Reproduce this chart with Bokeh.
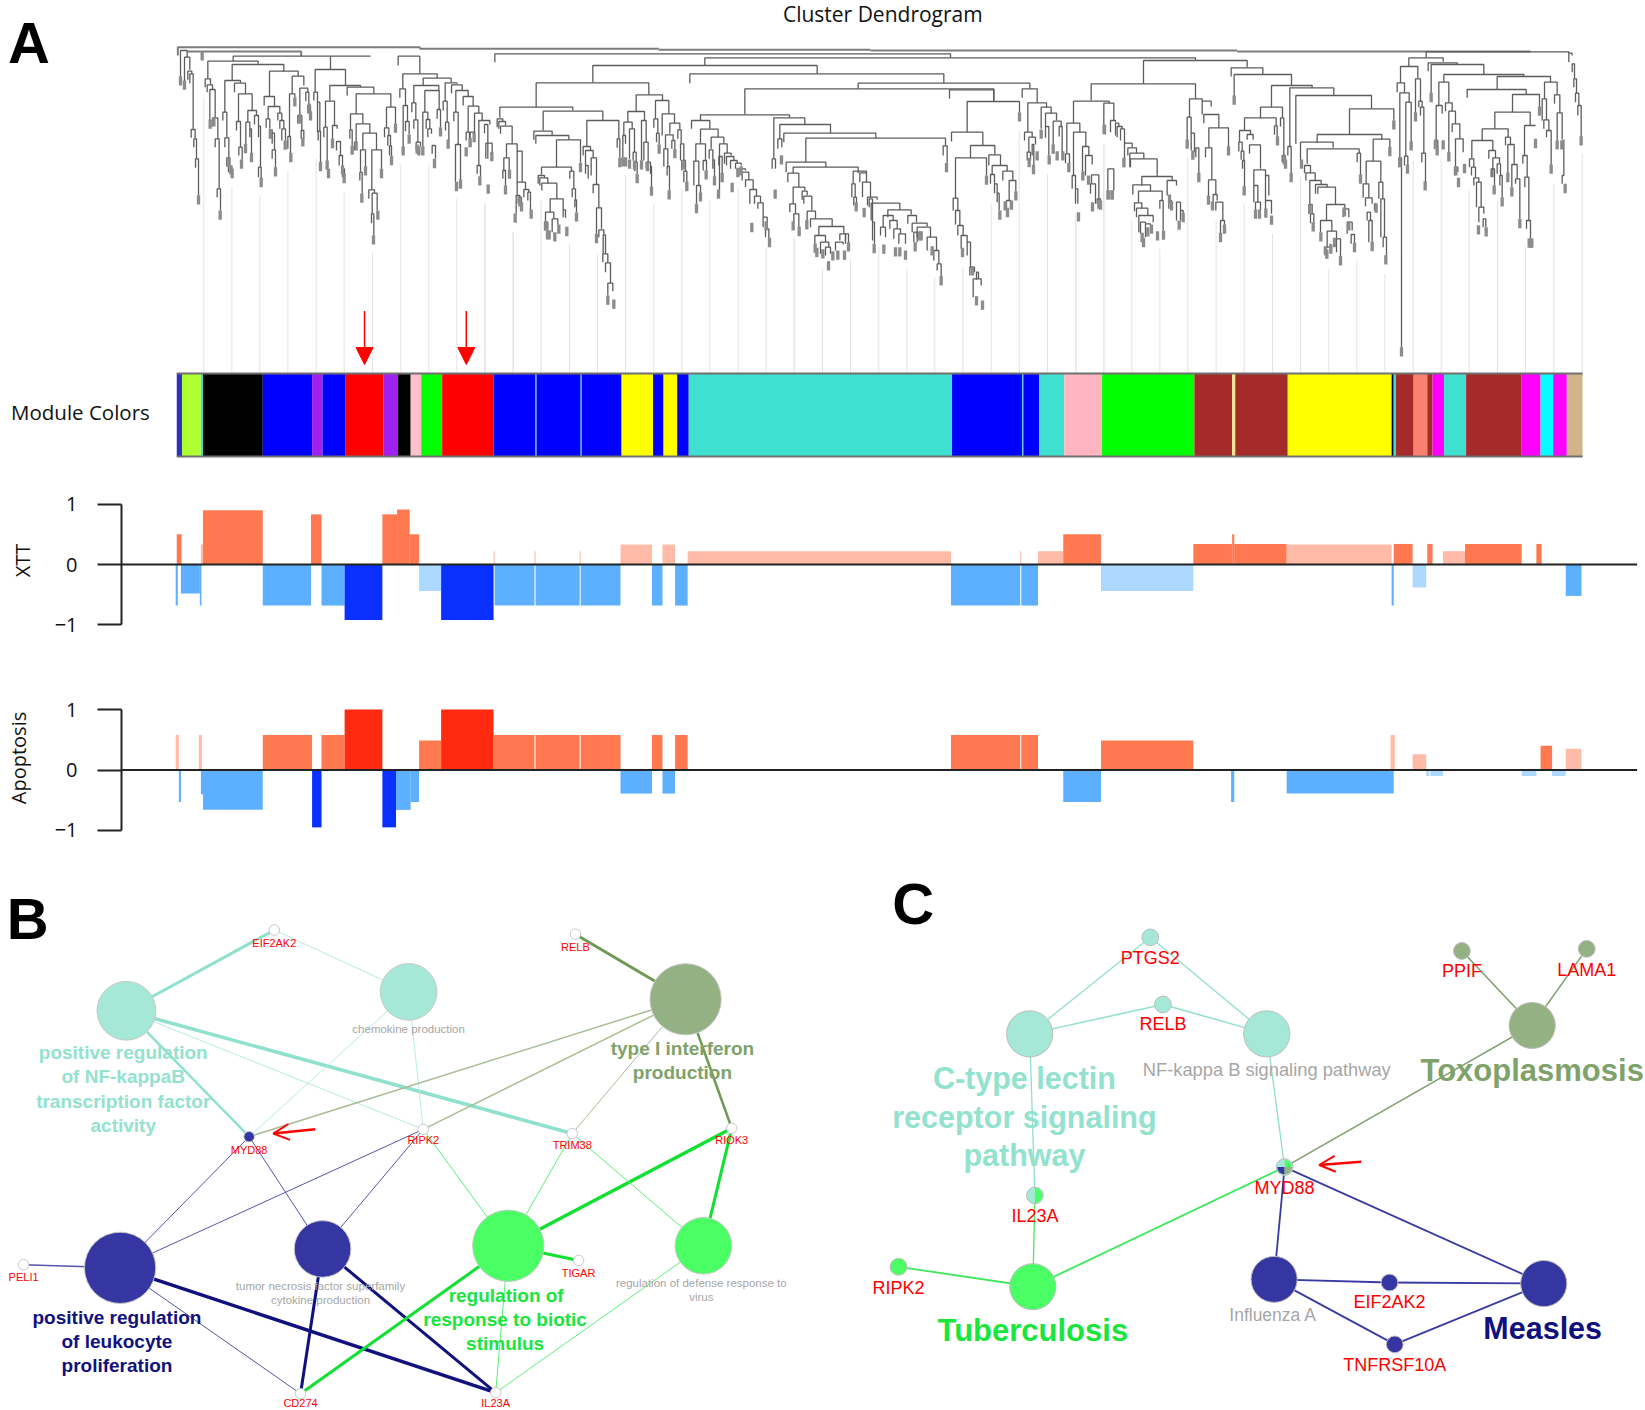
from bokeh.embed import file_html
from bokeh.resources import INLINE
from bokeh.layouts import column
from bokeh.plotting import figure
from bokeh.models import Range1d, FixedTicker, Arrow, NormalHead, OpenHead
from bokeh.core.properties import value

# ---------------------------------------------------------------- data
TITLE = "Cluster Dendrogram"

DENDRO_A = [
(30,50,30,110,50),(42,58,50,122,88),(52,64,92,118,100),(58,68,100,128,265),(62,74,267,292,295),(70,78,295,320,355),(75,84,355,382,465),
(104,120,115,140,132),(110,126,133,155,147),(118,134,147,240,232),(126,142,232,258,295),(134,146,295,320,445),(140,150,445,470,510),
(112,263,62,115,70),(185,340,72,120,92),(163,210,120,215,127),(157,169,215,240,292),(163,175,292,320,352),(169,178,352,378,378),(174,184,378,395,395),
(192,225,128,155,160),(204,245,160,243,210),(198,210,243,270,320),(205,215,320,345,358),(232,258,210,245,225),(226,238,245,312,265),(238,243,265,290,340),
(252,264,225,252,257),(264,270,257,290,380),(264,272,380,410,415),
(297,383,92,168,107),(281,312,168,195,198),(293,328,198,235,218),(287,298,235,262,265),(297,305,268,295,278),(305,312,278,310,328),(305,315,328,355,385),
(322,334,218,240,240),(328,340,240,265,265),(334,345,265,300,300),(352,360,288,325,340),
(365,400,107,160,135),(357,373,160,288,170),(388,412,143,225,155),(382,394,225,250,270),(392,400,270,295,295),(406,415,155,182,195),(412,420,195,218,215),
(188,600,47,62,47),(480,480,47,87,87),(683,748,47,75,100),
(434,525,87,155,135),(430,441,155,180,185),(441,448,185,275,272),(443,450,272,300,365),(478,570,135,180,140),(465,492,182,260,255),(460,470,260,290,363),
(486,500,255,300,265),(498,510,303,330,345),(506,516,345,375,385),(516,522,385,410,405),
(530,610,140,165,160),(557,661,160,220,200),(540,577,220,268,248),(538,545,268,295,315),(552,557,305,330,318),(557,598,250,305,278),(577,618,278,328,328),
(570,585,328,393,380),(568,575,395,420,460),(604,633,328,448,385),(595,612,448,475,458),(605,620,458,520,510),(603,610,520,548,585),
(648,675,200,262,250),(642,655,262,290,285),(652,660,285,316,316),(657,663,316,345,348),
(697,800,100,145,113),(688,705,145,172,195),(698,711,195,318,243),(705,716,243,272,282),
(758,842,113,135,125),(730,805,135,187,150),(724,736,187,215,238),(730,742,238,265,305),(737,750,305,330,318),
(763,806,150,215,207),(757,772,215,318,237),(767,778,237,265,265),(772,783,265,290,280),(785,795,315,340,355),(800,810,207,235,260),
(824,860,127,182,130),(818,830,182,210,245),(825,835,245,270,300),
(843,875,133,158,150),(856,893,150,215,168),(850,863,215,242,312),(855,870,312,425,420),(878,908,168,195,197),(893,925,197,275,218),(887,897,275,300,320),
(899,911,275,295,280),(912,935,218,278,240),(925,958,240,375,252),(920,930,375,400,408),(946,965,308,355,335),(942,952,252,278,355),
]
TIPS_A = [(30,135),(42,148),(84,492),(95,60),(119,265),(130,258),(149,538),(175,380),(181,402),(185,413),(213,385),(225,338),(243,365),(272,440),(315,408),(300,295),
(344,328),(361,365),(373,198),(397,318),(416,218),(420,240),(388,250),(450,392),(470,388),(474,413),(486,323),(521,428),(516,402),(545,343),(557,330),(574,487),(585,405),
(622,538),(609,612),(633,413),(663,374),(675,277),(698,345),(716,310),(745,345),(757,345),(792,383),(810,288),(833,325),(858,452),(870,445),(887,348),(899,320),(911,305),
(928,435),(953,460),(964,362),(740,340)]

DENDRO_B = [
(73,1440,40,65,52),(703,2175,52,75,60),(367,1040,75,127,100),(658,1420,100,128,128),(1163,1678,128,145,145),(823,1570,145,222,183),(197,535,127,200,163),
(88,307,200,232,210),(80,97,235,260,243),(85,105,243,265,255),(90,125,257,280,310),(108,140,310,350,332),(100,116,352,390,388),(97,105,390,415,435),
(140,155,332,425,425),(140,165,425,465,445),(137,148,465,520,470),(143,153,470,490,490),(160,175,447,470,455),(172,180,455,480,510),
(218,397,212,270,240),(190,245,272,298,285),(196,295,285,310,298),(258,330,298,380,366),(213,303,380,402,392),(203,222,405,430,412),(208,232,412,435,428),
(214,259,428,450,475),(239,278,475,515,508),(225,250,515,545,535),(222,232,545,570,568),(245,262,535,575,553),(278,285,508,530,532),
(298,310,392,415,445),(305,315,445,470,478),(313,318,478,500,515),
(349,445,240,318,295),(338,360,318,345,330),(345,368,330,375,352),(345,353,375,400,415),(362,378,352,405,432),(368,385,432,458,502),(378,393,502,580,565),
(385,400,568,590,583),(398,405,583,640,640),(397,412,640,665,667),(405,420,667,695,728),(412,427,728,765,752),(440,448,295,322,352),
(497,576,163,213,180),(472,522,213,245,240),(460,485,245,285,265),(457,465,285,350,310),(477,492,265,355,335),(488,497,335,360,365),(493,500,365,392,400),
(513,527,240,360,305),(520,533,305,360,365),(527,540,365,385,378),(540,543,378,400,440),
(555,595,180,235,220),(550,562,235,262,278),(558,566,278,305,313),(575,612,220,285,248),(598,628,248,280,268),(585,608,283,325,298),(580,592,325,378,378),
(590,597,378,405,450),(604,613,300,325,325),(622,632,268,295,308),(630,640,310,360,360),(634,645,360,390,392),(640,649,392,425,425),
(663,718,240,265,265),(690,743,266,310,290),(676,705,310,362,362),(670,685,362,435,435),(678,690,435,490,457),(698,708,360,390,390),
(722,760,290,325,310),(716,727,328,355,358),(727,732,358,385,410),(747,770,310,450,338),(745,755,348,375,400),
(762,782,338,370,345),(768,790,348,375,360),(780,800,360,385,368),(795,812,368,385,375),(805,825,385,405,390),(815,835,395,420,418),(825,848,418,440,447),
(838,858,447,490,467),(852,870,467,490,487),(862,878,487,505,530),(878,890,530,560,565),(885,895,565,590,595),
]
TIPS_B = [(105,462),(117,415),(134,547),(148,498),(153,513),(182,535),(330,395),(226,570),(231,597),(236,597),(253,603),(265,580),(289,587),(318,543),(378,608),(412,793),(430,805),(448,380),
(457,378),(465,378),(477,385),(492,388),(500,428),(513,387),(531,392),(543,466),(566,340),(596,477),(613,353),(640,387),(649,452),(678,518),(690,483),(707,417),(732,435),(744,475),(755,425),
(785,455),(802,410),(812,405),(844,575),(887,570),(897,620)]

DENDRO_C = [
(-210,57,223,240,232),(10,103,232,355,252),(5,15,355,385,385),(28,180,252,295,278),(22,34,295,325,320),(40,316,278,305,293),(106,525,293,365,316),(518,530,316,345,367),
(47,166,365,395,380),(68,263,380,398,398),(52,85,398,425,440),(68,103,440,490,450),(58,75,490,515,520),(70,85,520,545,560),(95,110,452,478,465),(100,124,467,490,510),
(110,135,512,565,535),(120,185,535,560,558),(145,220,558,585,580),(133,165,585,610,605),(150,175,605,640,620),(165,180,620,645,640),(195,218,605,630,612),(208,225,580,600,610),(225,234,580,600,610),
(248,288,392,430,397),(244,254,430,470,470),(250,258,470,495,490),(268,288,397,425,425),(276,300,425,470,470),(291,320,470,495,478),(302,388,488,540,508),(296,306,475,500,545),(306,312,545,600,610),
(338,368,525,560,540),(330,345,560,585,590),(358,380,540,565,565),(370,390,565,595,580),(385,405,580,610,610),(352,422,508,530,522),(412,438,525,550,545),(425,470,548,575,558),(440,480,560,590,590),
(470,498,590,630,630),(490,505,630,660,670),(500,512,670,690,710),(430,440,575,605,605),
(537,670,148,175,183),(590,747,183,275,215),(543,637,275,303,315),(600,673,315,352,343),(555,648,352,473,405),(548,562,473,510,510),(555,568,510,552,555),(562,578,555,585,585),
(572,590,585,625,605),(590,600,605,645,680),(598,612,680,705,695),(608,632,715,770,735),(618,624,695,718,715),
(655,690,343,375,375),(665,710,375,402,392),(660,672,402,430,430),(672,680,430,458,458),(680,686,458,485,510),(697,727,392,420,420),(716,736,420,480,452),(708,720,480,505,505),
(755,800,145,172,187),(772,828,187,275,200),(762,785,275,300,290),(775,795,290,335,312),(770,780,335,360,360),(785,790,312,345,375),
(812,842,200,265,218),(825,858,218,258,240),(825,835,258,292,345),(848,872,242,340,258),(866,875,258,288,335),(889,928,248,340,275),(885,897,340,368,368),
(909,946,275,405,318),(905,915,405,445,445),(915,922,445,490,490),(936,955,318,392,345),(945,965,345,405,372),(963,985,403,430,490),(980,990,475,490,490),(960,975,430,460,490),
(909,1016,182,248,188),(1000,1030,188,255,240),(1012,1030,385,450,450),
]
TIPS_C = [(33,372),(14,475),(528,395),(68,570),(86,587),(109,567),(134,637),(139,650),(157,654),(174,690),(187,660),(202,658),(222,658),(234,633),(257,513),(281,530),(311,638),(340,640),(375,648),(388,648),(405,658),(434,633),(447,600),(452,600),(485,645),(512,735),
(576,650),(606,705),(618,795),(636,808),(648,433),(747,243),(688,538),(704,510),(711,530),(723,508),(736,480),(776,380),(789,401),(800,360),(812,295),(836,372),(848,340),(860,360),(877,360),(895,395),(924,543),(937,420),(954,433),(966,513),(985,505),(990,508),(1002,282),(1013,477),(1025,477)]

DENDRO_D = [
(219,530,60,130,80),(62,375,130,180,175),(120,135,240,275,245),(135,145,248,285,258),(140,155,258,290,265),(150,162,265,300,308),(162,185,308,380,320),(172,198,322,345,338),(178,220,338,380,355),(180,260,355,380,408),
(214,305,408,435,420),(187,240,433,462,452),(204,275,452,485,480),(192,214,487,512,505),(198,232,503,530,525),(205,248,525,575,545),(210,225,545,580,550),(225,240,550,590,560),(268,278,480,505,570),
(290,318,420,465,435),(295,303,480,505,490),(318,330,485,540,510),(330,338,510,540,520),
(357,395,175,230,182),(350,362,230,300,278),(362,372,278,330,335),(376,385,322,350,400),(395,422,182,222,198),(400,445,222,248,262),(415,474,262,322,322),(405,424,322,350,418),(414,436,418,468,462),
(428,440,462,485,480),(436,457,485,510,540),(450,462,540,580,558),
(482,577,82,108,103),(491,663,102,170,135),(603,725,135,200,142),(570,636,200,232,232),(522,617,232,270,256),(507,540,270,305,282),(505,515,305,333,332),(512,520,332,358,360),(516,522,360,385,440),
(530,548,282,298,298),(537,570,313,340,385),(550,585,388,435,405),(555,570,485,510,510),(550,562,435,485,485),(585,595,405,480,465),(585,603,480,510,520),(612,620,256,283,290),(630,640,232,258,345),(635,645,345,365,365),
(658,790,142,318,165),(652,662,318,345,400),
]
TIPS_D = [(101,280),(113,477),(125,477),(160,380),(215,605),(219,620),(232,588),(243,580),(261,600),(279,598),(297,490),(303,510),(326,568),(338,545),(350,325),(367,358),(385,425),(474,345),(414,493),(426,510),(450,605),(462,580),(491,193),(521,465),(555,535),(567,535),(586,532),(603,553),(621,315),(641,372),(645,385),(662,425)]

DENDRO_E = [
(-14,213,165,310,205),(147,280,205,282,238),(50,244,282,305,296),(0,98,305,360,322),(20,176,325,370,338),(170,180,338,365,405),
(12,30,375,398,398),(16,44,397,420,420),(28,62,420,490,433),(45,80,432,460,440),(52,105,440,460,492),(25,35,492,520,520),(30,40,520,548,548),
(78,133,492,540,510),(60,94,540,575,572),(80,108,572,620,595),(72,90,620,640,610),(108,120,595,635,660),(128,145,505,530,530),(140,155,545,580,570),(152,162,582,610,610),
(218,268,296,362,320),(197,241,362,430,425),(188,205,430,472,472),(195,215,472,497,490),(200,210,515,540,540),(205,215,540,605,605),(222,227,490,510,510),
(235,247,425,475,475),(241,252,475,590,590),(248,258,590,620,645),
(377,805,34,52,38),(325,428,52,78,64),(300,352,78,127,115),(290,312,127,155,157),(298,326,157,350,185),(295,303,352,380,920),(316,332,185,347,305),(312,322,347,375,375),
(345,360,115,218,182),(355,365,182,200,200),(360,370,200,225,338),(364,375,338,365,425),
(383,470,67,92,72),(392,550,72,160,102),(430,670,102,125,108),(415,445,125,195,187),(407,425,195,300,220),(402,412,300,325,320),(435,455,187,212,212),(445,465,212,338,250),
(455,478,250,275,295),(465,488,295,380,335),(462,472,380,405,395),(590,750,108,147,125),(500,677,147,172,162),(636,717,162,215,200),(583,689,215,265,255),(545,623,265,300,290),(514,577,300,355,330),
(507,520,355,380,380),(513,525,380,405,410),(520,535,412,435,425),(528,542,425,500,500),(535,550,500,545,520),(548,556,535,560,560),(565,585,330,355,352),(577,597,352,410,368),(572,582,385,410,435),(598,605,405,435,470),(590,600,370,400,405),
(615,630,290,315,312),(622,641,312,398,372),(634,650,372,440,415),(645,658,415,430,535),(672,705,255,345,255),(667,680,345,370,410),(673,685,410,440,540),(678,690,540,565,595),
(732,770,125,175,163),(725,738,175,240,238),(730,745,238,265,270),(738,752,270,290,375),(762,778,163,190,217),(770,785,217,300,297),(785,790,405,430,297),
(805,815,38,65,45),(815,822,70,95,115),(820,828,115,140,160),(825,835,158,185,195),(832,842,195,225,290),
]
TIPS_E = [(3,385),(28,520),(38,573),(61,603),(75,645),(79,655),(91,640),(102,620),(120,675),(132,528),(145,570),(162,635),(180,430),(215,632),(227,517),(256,672),(268,347),(280,267),
(298,380),(303,948),(321,400),(332,330),(345,243),(374,450),(392,185),(410,345),(405,326),(428,327),(445,363),(474,440),(466,405),(492,398),(534,582),(557,588),(581,462),(605,498),(622,425),(634,468),(658,563),(690,622),(686,622),(694,622),(705,323),(717,226),(752,400),(770,327),(784,327),(794,458),(842,315)]

# Long top-level dendrogram bars, same crop-A units
TOP_BARS = [(22,748,20,45,25),(50,392,33,33,47),(748,1465,25,25,25),(1465,2100,28,28,28),(2100,3200,30,30,30),(3200,4080,33,33,33)]

# Hanging leaf guides: crop offsets with x and upper end (bar end is at the module strip)
GUIDE_A_X = [100,184,268,352,437,521,606,691,775,859,943,1028]
GUIDE_A_Y = [170,440,465,392,355,455,635,372,372,475,488,575]
GUIDE_B_X = [44,128,212,297,381,465,550,634,718,803,887,971]
GUIDE_B_Y = [490,575,480,610,640,405,490,445,480,440,620,595]
GUIDE_C_X = [71,156,240,325,409,493,577,662,746,831,916,1000]
GUIDE_C_Y = [595,685,655,620,685,710,680,490,270,400,520,310]
GUIDE_D_X = [16,100,184,268,352,437,521,606,690]
GUIDE_D_Y = [545,310,540,625,350,540,490,580,410]
GUIDE_E_X = [85,169,253,338,422,506,591,675,760,845]
GUIDE_E_Y = [685,660,700,360,355,450,480,620,430,340]

MODULE_EDGES = [168,173,191,193,250,297,307,329,365,379,391,401,421,470,510,511,553,554,592,622,632,645,656,907,974,975,990,1014,1050,1138,1174,1177,1227,1326,1328,1330,1347,1360,1365,1376,1397,1450,1468,1480,1493,1508]
MODULE_COLORS = ["#3030c0","#adff2f","#40e0d0","#000000","#0000ff","#a020f0","#0000ff","#ff0000","#a020f0","#000000","#ffc0cb","#00ff00","#ff0000","#0000ff","#40e0d0","#0000ff","#40e0d0","#0000ff","#ffff00","#0000ff","#ffff00","#0000ff","#40e0d0","#0000ff","#40e0d0","#0000ff","#40e0d0","#ffb6c1","#00ff00","#a52a2a","#f0e68c","#a52a2a","#ffff00","#000000","#40e0d0","#a52a2a","#fa8072","#a52a2a","#ff00ff","#40e0d0","#a52a2a","#ff00ff","#00ffff","#ff00ff","#d2b48c"]
RED_MODULE_X = [347,444]

# (left, right, value, intensity level)
XTT_BARS = [(168,172.5,.5,1),(167,169,-.68,1),(172,190,-.48,1),(190,191.5,-.68,1),(191,193,.33,0),(193,250,.9,1),(250,296,-.68,1),(296,306,.83,1),(306,328,-.68,1),(328,364,-.92,2),
(364,378,.83,1),(378,390,.91,1),(376,378,.5,1),(390,399,.5,1),(399,420,-.44,0),(420,470,-.92,2),(470,471,.22,0),(471,509,-.68,1),(509,510,.22,0),(510,552,-.68,1),(552,553,.22,0),(553,591,-.68,1),
(591,621,.33,0),(621,631,-.68,1),(631,643,.33,0),(643,655,-.68,1),(655,906,.22,0),(906,972,-.68,1),(972,973,.22,0),(973,989,-.68,1),(989,1013,.22,0),(1013,1049,.5,1),(1049,1137,-.44,0),
(1137,1174,.34,1),(1174,1176,.5,1),(1176,1226,.34,1),(1226,1326,.33,0),(1326,1328,-.68,1),(1328,1346,.34,1),(1346,1359,-.38,0),(1360,1365,.34,1),(1375,1396,.22,0),(1396,1450,.34,1),(1464,1469,.34,1),(1492,1507,-.52,1)]
APOPTOSIS_BARS = [(167,170,.58,0),(170,172,-.53,1),(189,192,.58,0),(191,193,-.4,1),(193,250,-.66,1),(250,297,.58,1),(297,306,-.95,2),(306,328,.58,1),(328,364,1,2),(364,377,-.95,2),(377,391,-.66,1),(391,399,-.53,1),
(399,420,.49,1),(420,470,1,2),(470,509,.58,1),(510,552,.58,1),(553,591,.58,1),(591,621,-.39,1),(621,631,.58,1),(631,643,-.39,1),(643,655,.58,1),(906,972,.58,1),(973,989,.58,1),(1013,1049,-.53,1),(1049,1137,.49,1),
(1173,1176,-.53,1),(1226,1328,-.39,1),(1325,1329,.58,0),(1346,1359,.26,0),(1359,1362,-.1,0),(1363,1375,-.1,0),(1450,1464,-.1,0),(1468,1479,.4,1),(1479,1492,-.1,0),(1492,1507,.35,0)]
POS_SHADES = ["#ffbba8","#ff7850","#ff2a10"]
NEG_SHADES = ["#add8ff","#5cb0ff","#0a30ff"]
TRACK_TICKS = [-1,0,1]

MINT, MINT_T, OLIVE, OLIVE_T, NAVY, NAVY_T, LIME, LIME_T = "#a5e8d8","#92e2cd","#93b182","#7ea26a","#3636a3","#10107f","#4aff64","#19e63c"

NET_B_NODES = {
 "NF":(120,963,28,MINT),"CHEM":(389,945,27,MINT),"IFN":(653,952,34,OLIVE),"LEUK":(114,1208,34,NAVY),"TNF":(307,1190,27,NAVY),"BIO":(484,1187,34,LIME),"DEF":(670,1187,27,LIME),
 "EIF2AK2":(261,886,5,"#ffffff"),"RELB":(548,890,5,"#ffffff"),"MYD88":(237,1083,5,NAVY),"RIPK2":(403,1076,5,"#ffffff"),"TRIM38":(545,1080,5,"#ffffff"),"RIOK3":(697,1075,5,"#ffffff"),
 "PELI1":(22,1205,5,"#ffffff"),"TIGAR":(551,1201,5,"#ffffff"),"CD274":(286,1328,5,"#ffffff"),"IL23A":(472,1327,5,"#ffffff")}
NET_B_EDGES = [("NF","EIF2AK2",3,"#8fe0cc"),("CHEM","EIF2AK2",1,"#b5ecdf"),("NF","MYD88",2.5,"#8fe0cc"),("NF","RIPK2",1,"#b5ecdf"),("NF","TRIM38",3.5,"#8fe0cc"),("CHEM","MYD88",1,"#b5ecdf"),("CHEM","RIPK2",1,"#b5ecdf"),
 ("IFN","RELB",3,"#6f9a55"),("IFN","MYD88",1.5,"#a9bd97"),("IFN","RIPK2",1.5,"#a9bd97"),("IFN","TRIM38",1,"#a9bd97"),("IFN","RIOK3",2.5,"#6f9a55"),
 ("LEUK","PELI1",1.5,"#5555aa"),("LEUK","MYD88",1,"#5555aa"),("LEUK","RIPK2",1,"#5555aa"),("TNF","MYD88",1,"#5555aa"),("TNF","RIPK2",1,"#5555aa"),("LEUK","IL23A",3.5,NAVY_T),("TNF","IL23A",3,NAVY_T),("TNF","CD274",3,NAVY_T),("LEUK","CD274",1,"#5555aa"),
 ("BIO","RIPK2",1,"#5cf078"),("BIO","TRIM38",1,"#5cf078"),("BIO","RIOK3",3.5,"#10e030"),("BIO","TIGAR",3,"#10e030"),("BIO","CD274",3,"#10e030"),("BIO","IL23A",1,"#5cf078"),("DEF","TRIM38",1,"#5cf078"),("DEF","RIOK3",3,"#10e030"),("DEF","IL23A",1,"#5cf078")]
NET_C_NODES = {
 "CT":(981,985,22,MINT),"NS":(1207,985,22,MINT),"TOXO":(1460,977,22,OLIVE),"TB":(984,1226,22,LIME),"FLU":(1214,1219,22,NAVY),"MEAS":(1471,1223,22,NAVY),
 "PTGS2":(1096,893,8,MINT),"RELB":(1108,957,8,MINT),"PPIF":(1393,906,8,OLIVE),"LAMA1":(1512,904,8,OLIVE),"IL23A":(986,1139,8,MINT),"MYD88":(1224,1112,8,MINT),"RIPK2":(856,1207,8,LIME),"EIF2AK2":(1324,1222,8,NAVY),"TNFRSF10A":(1329,1281,8,NAVY)}
NET_C_EDGES = [("CT","PTGS2",1.3,"#8fe0cc"),("CT","RELB",1.5,"#8fe0cc"),("NS","PTGS2",1.3,"#8fe0cc"),("NS","RELB",1.5,"#8fe0cc"),("CT","IL23A",1.3,"#8fe0cc"),("NS","MYD88",1.3,"#8fe0cc"),
 ("TOXO","PPIF",1.5,"#7e9f6c"),("TOXO","LAMA1",1.5,"#7e9f6c"),("TOXO","MYD88",1.5,"#7e9f6c"),("IL23A","TB",1.3,"#4de864"),("TB","MYD88",1.8,"#3de85a"),("TB","RIPK2",1.8,"#3de85a"),
 ("FLU","MYD88",1.8,"#3a3aa3"),("MEAS","MYD88",1.8,"#3a3aa3"),("FLU","EIF2AK2",1.8,"#3a3aa3"),("MEAS","EIF2AK2",1.8,"#3a3aa3"),("FLU","TNFRSF10A",1.8,"#3a3aa3"),("MEAS","TNFRSF10A",1.8,"#3a3aa3")]
MYD88_QUARTERS = [(NAVY,90,180),(OLIVE,0,90),(LIME,270,360),(MINT,180,270)]
IL23A_HALVES = [(LIME,270,90)]

# x, y, text, size px, colour, bold
NET_LABELS = [
 (117,1003,"positive regulation",19,MINT_T,True),(117,1026,"of NF-kappaB",19,MINT_T,True),(117,1049,"transcription factor",19,MINT_T,True),(117,1072,"activity",19,MINT_T,True),
 (389,980,"chemokine production",11.5,"#a6a6a6",False),(650,999,"type I interferon",19,OLIVE_T,True),(650,1022,"production",19,OLIVE_T,True),
 (111,1255,"positive regulation",19,NAVY_T,True),(111,1278,"of leukocyte",19,NAVY_T,True),(111,1301,"proliferation",19,NAVY_T,True),
 (305,1225,"tumor necrosis factor superfamily",11.5,"#a6a6a6",False),(305,1239,"cytokine production",11.5,"#a6a6a6",False),
 (482,1234,"regulation of",19,LIME_T,True),(481,1257,"response to biotic",19,LIME_T,True),(481,1280,"stimulus",19,LIME_T,True),
 (668,1222,"regulation of defense response to",11.5,"#a6a6a6",False),(668,1236,"virus",11.5,"#a6a6a6",False),
 (261,898,"EIF2AK2",11,"#ff0000",False),(548,902,"RELB",11,"#ff0000",False),(237,1096,"MYD88",11,"#ff0000",False),(403,1086,"RIPK2",11,"#ff0000",False),(545,1091,"TRIM38",11,"#ff0000",False),(697,1086,"RIOK3",11,"#ff0000",False),
 (22,1217,"PELI1",11,"#ff0000",False),(551,1213,"TIGAR",11,"#ff0000",False),(286,1337,"CD274",11,"#ff0000",False),(472,1337,"IL23A",11,"#ff0000",False),
 (976,1027,"C-type lectin",30.5,MINT_T,True),(976,1064,"receptor signaling",30.5,MINT_T,True),(976,1100,"pathway",30.5,MINT_T,True),(1207,1019,"NF-kappa B signaling pathway",18.3,"#a6a6a6",False),
 (1460,1020,"Toxoplasmosis",31,OLIVE_T,True),(984,1268,"Tuberculosis",31,LIME_T,True),(1470,1265,"Measles",30.5,NAVY_T,True),(1213,1253,"Influenza A",17.5,"#a6a6a6",False),
 (1096,913,"PTGS2",18,"#ff0000",False),(1108,976,"RELB",18,"#ff0000",False),(1393,925,"PPIF",18,"#ff0000",False),(1512,924,"LAMA1",18,"#ff0000",False),(986,1159,"IL23A",18,"#ff0000",False),
 (1224,1132,"MYD88",18,"#ff0000",False),(856,1227,"RIPK2",18,"#ff0000",False),(1324,1241,"EIF2AK2",18,"#ff0000",False),(1329,1301,"TNFRSF10A",18,"#ff0000",False)]
POINTER_ARROWS = [(300,1076,260,1080),(1297,1107,1257,1110)]

# ---------------------------------------------------------------- layout
K = 1645 / 1568            # page pixels per reference unit used above
W = 1645
TOP, A_END, X_END, AP_END, NET_END = 0, 470, 650, 865, 1410
UNIT = 60.4
FONT = "Open Sans"
ARIAL = "Liberation Sans"


def bare(height, y_range, x_start=0, **kw):
    return figure(width=W, height=height, output_backend="svg", toolbar_location=None,
                  x_range=Range1d(x_start / K, 1645 / K), y_range=y_range, outline_line_color=None,
                  min_border=0, min_border_left=kw.pop("left", 0), x_axis_location=None, frame_align=False,
                  y_axis_location=kw.pop("yloc", None), background_fill_color="white")


def no_grid(p):
    p.xgrid.visible = False
    p.ygrid.visible = False
    return p


def gx(off, z):
    return (off + z / 3) / K


def gy(z):
    return (40 + z / 3) / K


# ---- Panel A top
pa = no_grid(bare(A_END - TOP, Range1d(A_END / K, TOP / K)))
pa.text([841], [13], text=[TITLE], text_font=value(FONT), text_font_size="21px", text_align="center", text_baseline="middle", text_color="#111111")
pa.text([27], [40], text=["A"], text_font=value(ARIAL), text_font_style="bold", text_font_size="58px", text_align="center", text_baseline="alphabetic", text_color="#000000")
pa.text([10], [392], text=["Module Colors"], text_font=value(FONT), text_font_size="20.5px", text_align="left", text_baseline="middle", text_color="#111111")

strip_top, strip_bottom = 373 / K, 456 / K
for off, xs, ys in [(170, GUIDE_A_X, GUIDE_A_Y), (470, GUIDE_B_X, GUIDE_B_Y), (770, GUIDE_C_X, GUIDE_C_Y), (1070, GUIDE_D_X, GUIDE_D_Y), (1300, GUIDE_E_X, GUIDE_E_Y)]:
    pa.segment([gx(off, v) for v in xs], [gy(v) for v in ys], [gx(off, v) for v in xs], [strip_top] * len(xs), line_color="#e4e4e4", line_width=1)


def draw_tree(p, off, merges, tips, color="#5c5c5c", width=1.3):
    xs, ys = [], []
    for xl, xr, y, yl, yr in merges:
        xs.append([gx(off, xl), gx(off, xl), gx(off, xr), gx(off, xr)])
        ys.append([gy(yl), gy(y), gy(y), gy(yr)])
    p.multi_line(xs, ys, line_color=color, line_width=width)
    if tips:
        p.quad(left=[gx(off, t[0] - 5) for t in tips], right=[gx(off, t[0] + 5) for t in tips],
               top=[gy(t[1] - 28) for t in tips], bottom=[gy(t[1]) for t in tips], fill_color="#8c8c8c", line_color=None)


draw_tree(pa, 170, TOP_BARS, [], "#7c7c7c", 2)
draw_tree(pa, 170, DENDRO_A, TIPS_A)
draw_tree(pa, 470, DENDRO_B, TIPS_B)
draw_tree(pa, 770, DENDRO_C, TIPS_C)
draw_tree(pa, 1070, DENDRO_D, TIPS_D)
draw_tree(pa, 1300, DENDRO_E, TIPS_E)

pa.quad(left=MODULE_EDGES[:-1], right=MODULE_EDGES[1:], top=strip_top, bottom=strip_bottom, fill_color=MODULE_COLORS, line_color=None)
pa.segment([168, 168], [strip_top, strip_bottom], [1508, 1508], [strip_top, strip_bottom], line_color="#707070", line_width=2)
for x in RED_MODULE_X:
    pa.add_layout(Arrow(end=NormalHead(size=17, fill_color="#ff0000", line_color="#ff0000"), x_start=x, y_start=296, x_end=x, y_end=347,
                        line_color="#ff0000", line_width=1.5))


# ---- Tracks
def track(name, bars, height, fig_top, zero_px, standoff):
    end = (zero_px - fig_top) / UNIT
    start = -(fig_top + height - zero_px) / UNIT
    p = no_grid(bare(height, Range1d(start, end), left=121, yloc="left", x_start=121))
    ax = p.yaxis[0]
    ax.ticker = FixedTicker(ticks=TRACK_TICKS)
    ax.bounds = (-1, 1)
    ax.axis_label = name
    ax.axis_label_text_font = FONT
    ax.axis_label_text_font_size = "20px"
    ax.axis_label_text_font_style = "normal"
    ax.axis_label_text_color = "#111111"
    ax.axis_label_standoff = standoff
    ax.major_label_text_font = FONT
    ax.major_label_text_font_size = "20px"
    ax.major_label_text_color = "#111111"
    ax.major_label_standoff = 20
    ax.major_label_orientation = "horizontal"
    ax.major_tick_out = 24
    ax.major_tick_in = 0
    ax.minor_tick_out = 0
    ax.minor_tick_in = 0
    ax.axis_line_width = 2
    ax.major_tick_line_width = 2
    ax.axis_line_color = "#222222"
    ax.major_tick_line_color = "#222222"
    cols = [(POS_SHADES if b[2] > 0 else NEG_SHADES)[b[3]] for b in bars]
    p.quad(left=[b[0] for b in bars], right=[b[1] for b in bars], top=[max(b[2], 0) for b in bars], bottom=[min(b[2], 0) for b in bars], fill_color=cols, line_color=None)
    p.segment([115], [0], [1560], [0], line_color="#222222", line_width=2)
    return p


px = track("XTT", XTT_BARS, X_END - A_END, A_END, 564, 16)
pp = track("Apoptosis", APOPTOSIS_BARS, AP_END - X_END, X_END, 769.5, 20)

# ---- Networks
pn = no_grid(bare(NET_END - AP_END, Range1d(NET_END / K, AP_END / K)))


def draw_net(p, nodes, edges, outline):
    for a, b, w, c in edges:
        p.line([nodes[a][0], nodes[b][0]], [nodes[a][1], nodes[b][1]], line_color=c, line_width=w)
    names = list(nodes)
    p.scatter([nodes[n][0] for n in names], [nodes[n][1] for n in names], size=[nodes[n][2] * 2 * K for n in names],
              fill_color=[nodes[n][3] for n in names], line_color=outline, line_width=1)


draw_net(pn, NET_B_NODES, NET_B_EDGES, "#c8c8c8")
draw_net(pn, NET_C_NODES, NET_C_EDGES, "#bdbdbd")
m = NET_C_NODES["MYD88"]
for c, a0, a1 in MYD88_QUARTERS:
    pn.wedge([m[0]], [m[1]], radius=7, start_angle=-a1, end_angle=-a0, start_angle_units="deg", end_angle_units="deg", fill_color=c, line_color=None)
m = NET_C_NODES["IL23A"]
for c, a0, a1 in IL23A_HALVES:
    pn.wedge([m[0]], [m[1]], radius=7, start_angle=-a1, end_angle=-a0, start_angle_units="deg", end_angle_units="deg", fill_color=c, line_color=None)

for x, y, t, s, c, b in NET_LABELS:
    pn.text([x], [y], text=[t], text_font=value(ARIAL), text_font_size=f"{s}px", text_color=c, text_align="center", text_baseline="middle",
            text_font_style="bold" if b else "normal")
pn.text([26], [875], text=["B"], text_font=value(ARIAL), text_font_style="bold", text_font_size="58px", text_align="center", text_baseline="alphabetic", text_color="#000000")
pn.text([870], [861], text=["C"], text_font=value(ARIAL), text_font_style="bold", text_font_size="58px", text_align="center", text_baseline="alphabetic", text_color="#000000")
for x0, y0, x1, y1 in POINTER_ARROWS:
    pn.add_layout(Arrow(end=OpenHead(size=16, line_color="#ff0000", line_width=2), x_start=x0, y_start=y0, x_end=x1, y_end=y1, line_color="#ff0000", line_width=2.5))

page = column(pa, px, pp, pn, spacing=0)
open("out.html", "w").write(file_html(page, INLINE))
